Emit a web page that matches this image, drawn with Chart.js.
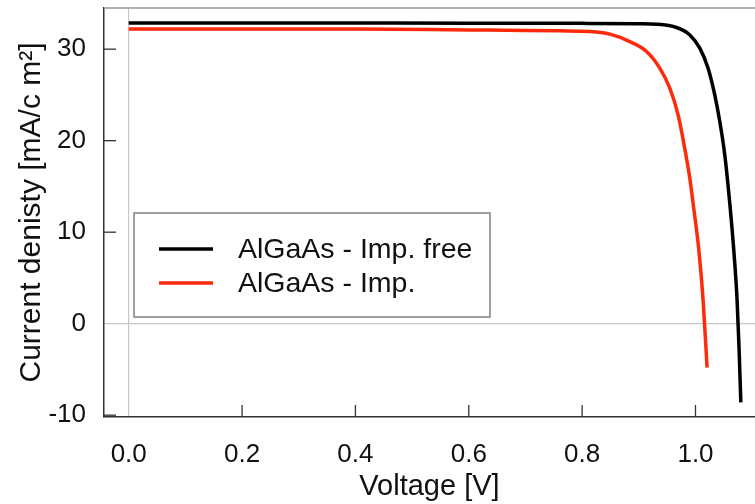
<!DOCTYPE html>
<html lang="en">
<head>
    <meta charset="UTF-8">
    <title>J-V curves AlGaAs</title>
    <script src="https://cdn.jsdelivr.net/npm/chart.js"></script>
    <style>
        body { margin: 0; background: #fff; }
    </style>
</head>
<body>
    <div style="width: 755px; height: 504px; position: relative">
        <canvas id="myChart"></canvas>
    </div>
    <script>
    // values
    const freeVoltage = [0, 0.2, 0.4, 0.6, 0.8, 0.9, 0.931, 0.9665, 0.99, 1.0076, 1.0222, 1.034, 1.0429, 1.0517, 1.0605, 1.0676, 1.0734, 1.077, 1.080];
    const freeCurrent = [32.85, 32.85, 32.85, 32.84, 32.82, 32.78, 32.73, 32.37, 31.56, 30.11, 27.92, 25.0, 22.08, 18.44, 13.15, 8.0, 2.6, -2.9, -8.6];

    const impVoltage = [0, 0.2, 0.4, 0.6, 0.7, 0.761, 0.8136, 0.849, 0.884, 0.9136, 0.937, 0.9547, 0.9693, 0.981, 0.99, 0.9958, 1.006, 1.0134, 1.0205];
    const impCurrent = [32.2, 32.2, 32.2, 32.1, 32.05, 32.0, 31.93, 31.64, 30.83, 29.74, 27.92, 25.73, 22.81, 19.17, 15.89, 13.15, 8.0, 2.6, -4.8];

    const xTicks = [0, 0.2, 0.4, 0.6, 0.8, 1.0];
    const yTicks = [-10, 0, 10, 20, 30];
    const seriesNames = ['AlGaAs - Imp. free', 'AlGaAs - Imp.'];
    const seriesColors = ['#000000', '#ff2a0a'];

    const FONT = 'Liberation Sans, Arial, sans-serif';

    const toPoints = (xs, ys) => xs.map((x, i) => ({ x: x, y: ys[i] }));

    // inward ticks, top frame line and boxed legend
    const framePlugin = {
        id: 'frame',
        afterDraw(chart) {
            const ctx = chart.ctx;
            const area = chart.chartArea;
            const xs = chart.scales.x, ys = chart.scales.y;
            ctx.save();
            ctx.strokeStyle = '#999';
            ctx.lineWidth = 1.5;
            ctx.beginPath();
            ctx.moveTo(area.left, area.top);
            ctx.lineTo(area.right, area.top);
            ctx.stroke();

            ctx.strokeStyle = '#333';
            ctx.lineWidth = 1.3;
            xTicks.forEach(v => {
                if (v === 0) return;
                const px = xs.getPixelForValue(v);
                ctx.beginPath();
                ctx.moveTo(px, area.bottom);
                ctx.lineTo(px, area.bottom - 12);
                ctx.stroke();
            });
            yTicks.forEach(v => {
                if (v === 0) return;
                const py = ys.getPixelForValue(v);
                ctx.beginPath();
                ctx.moveTo(area.left, py);
                ctx.lineTo(area.left + 12, py);
                ctx.stroke();
            });

            // legend box
            ctx.fillStyle = '#fff';
            ctx.fillRect(134, 213, 356, 104);
            ctx.strokeStyle = '#808080';
            ctx.lineWidth = 1.5;
            ctx.strokeRect(134, 213, 356, 104);
            ctx.font = '28.5px ' + FONT;
            ctx.textBaseline = 'middle';
            ctx.textAlign = 'left';
            chart.data.datasets.forEach((ds, i) => {
                const y = 249 + i * 34;
                ctx.strokeStyle = ds.borderColor;
                ctx.lineWidth = 3.5;
                ctx.beginPath();
                ctx.moveTo(159, y);
                ctx.lineTo(213, y);
                ctx.stroke();
                ctx.fillStyle = '#111';
                ctx.fillText(ds.label, 238, y + 1);
            });
            ctx.restore();
        }
    };

    const ctx = document.getElementById('myChart').getContext('2d');
    const myChart = new Chart(ctx, {
        type: 'scatter',
        data: {
            datasets: [
                {
                    label: seriesNames[0],
                    data: toPoints(freeVoltage, freeCurrent),
                    showLine: true,
                    borderColor: seriesColors[0],
                    borderWidth: 3.5,
                    pointRadius: 0,
                    cubicInterpolationMode: 'monotone'
                },
                {
                    label: seriesNames[1],
                    data: toPoints(impVoltage, impCurrent),
                    showLine: true,
                    borderColor: seriesColors[1],
                    borderWidth: 3.5,
                    pointRadius: 0,
                    cubicInterpolationMode: 'monotone'
                }
            ]
        },
        options: {
            responsive: true,
            maintainAspectRatio: false,
            animation: false,
            layout: { padding: { top: 8, left: 0, right: 0, bottom: 0 } },
            scales: {
                x: {
                    type: 'linear',
                    position: 'bottom',
                    min: -0.0436,
                    max: 1.105,
                    afterBuildTicks: s => { s.ticks = xTicks.map(v => ({ value: v })); },
                    afterFit: s => {
                        s.height = 87;
                        s.paddingLeft = 0;
                        s.paddingRight = 0;
                    },
                    grid: {
                        drawTicks: false,
                        lineWidth: 1.2,
                        color: c => (c.tick && c.tick.value === 0) ? '#c8c8c8' : 'rgba(0,0,0,0)'
                    },
                    border: { display: true, color: '#333', width: 1.5 },
                    ticks: {
                        padding: 22,
                        color: '#111',
                        font: { family: FONT, size: 26 },
                        callback: v => v.toFixed(1)
                    },
                    title: {
                        display: true,
                        text: 'Voltage [V]',
                        color: '#111',
                        font: { family: FONT, size: 29 },
                        padding: { top: 0, bottom: 0 }
                    }
                },
                y: {
                    type: 'linear',
                    position: 'left',
                    min: -10.2,
                    max: 34.5,
                    afterBuildTicks: s => { s.ticks = yTicks.map(v => ({ value: v })); },
                    afterFit: s => {
                        s.width = 104;
                        s.paddingTop = 0;
                        s.paddingBottom = 0;
                    },
                    grid: {
                        drawTicks: false,
                        lineWidth: 1.2,
                        color: c => (c.tick && c.tick.value === 0) ? '#c8c8c8' : 'rgba(0,0,0,0)'
                    },
                    border: { display: true, color: '#333', width: 1.5 },
                    ticks: {
                        padding: 18,
                        color: '#111',
                        font: { family: FONT, size: 26 }
                    },
                    title: {
                        display: true,
                        text: 'Current denisty [mA/c m\u00B2]',
                        color: '#111',
                        font: { family: FONT, size: 30 },
                        padding: { top: 14, bottom: 0 }
                    }
                }
            },
            plugins: {
                legend: { display: false },
                tooltip: { enabled: false }
            }
        },
        plugins: [framePlugin]
    });
    </script>
</body>
</html>
